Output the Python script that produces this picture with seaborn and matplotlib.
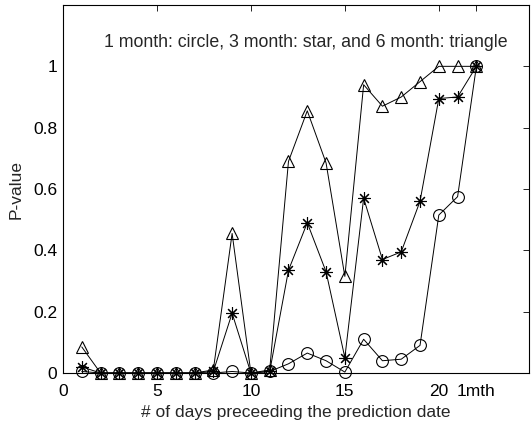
import numpy as np
import pandas as pd
import matplotlib
matplotlib.use("Agg")
import matplotlib.pyplot as plt
import seaborn as sns

# days preceding the prediction date (22 = "1mth")
days = [1, 2, 3, 4, 5, 6, 7, 8, 9, 10, 11, 12, 13, 14, 15, 16, 17, 18, 19, 20, 21, 22]

p_1month = [0.005, 0.0, 0.0, 0.0, 0.0, 0.0, 0.0, 0.0, 0.005, 0.0, 0.005,
            0.03, 0.065, 0.04, 0.003, 0.11, 0.04, 0.045, 0.09, 0.515, 0.575, 1.0]
p_3month = [0.02, 0.0, 0.0, 0.0, 0.0, 0.0, 0.0, 0.005, 0.195, 0.0, 0.005,
            0.335, 0.49, 0.33, 0.05, 0.57, 0.37, 0.395, 0.56, 0.895, 0.9, 1.0]
p_6month = [0.085, 0.0, 0.0, 0.0, 0.0, 0.0, 0.0, 0.01, 0.455, 0.0, 0.01,
            0.69, 0.855, 0.685, 0.315, 0.94, 0.87, 0.9, 0.95, 1.0, 1.0, 1.0]

xticks = [0, 5, 10, 15, 20, 22]
xticklabels = ['0', '5', '10', '15', '20', '1mth']
yticks = [0, 0.2, 0.4, 0.6, 0.8, 1.0]
yticklabels = ['0', '0.2', '0.4', '0.6', '0.8', '1']

sns.set_style("white")
plt.rcParams['font.family'] = ['Liberation Sans', 'DejaVu Sans']
fs = 12.5

fig = plt.figure(figsize=(5.31, 4.25), dpi=100)
ax = fig.add_axes([63/531, 1 - 373/425, (529-63)/531, (373-5)/425])

series = [(p_1month, 'o', 8.5), (p_3month, (8, 2, 0), 9), (p_6month, '^', 9)]
for vals, mk, ms in series:
    df = pd.DataFrame({'day': days, 'p': vals})
    sns.lineplot(data=df, x='day', y='p', ax=ax, color='black', linewidth=0.7,
                 marker=mk, markersize=ms, markerfacecolor='none',
                 markeredgecolor='black', markeredgewidth=0.8, clip_on=False)

ax.set_xlim(0, 24.8)
ax.set_ylim(0, 1.2)
ax.set_xticks(xticks)
ax.set_xticklabels(xticklabels)
ax.set_yticks(yticks)
ax.set_yticklabels(yticklabels)
ax.tick_params(direction='in', length=4, width=0.6, top=True, right=True,
               labelsize=fs, colors='black')
ax.tick_params(axis='x', pad=8)
ax.tick_params(axis='y', pad=4)
for s in ax.spines.values():
    s.set_color('black')
    s.set_linewidth(0.8)

ax.set_xlabel('# of days preceeding the prediction date', fontsize=fs, labelpad=4)
ax.set_ylabel('P-value', fontsize=fs, labelpad=7)
ax.text(2.2, 1.078, '1 month: circle, 3 month: star, and 6 month: triangle',
        fontsize=12.8, va='center', ha='left')

fig.savefig('out.png', dpi=100)
